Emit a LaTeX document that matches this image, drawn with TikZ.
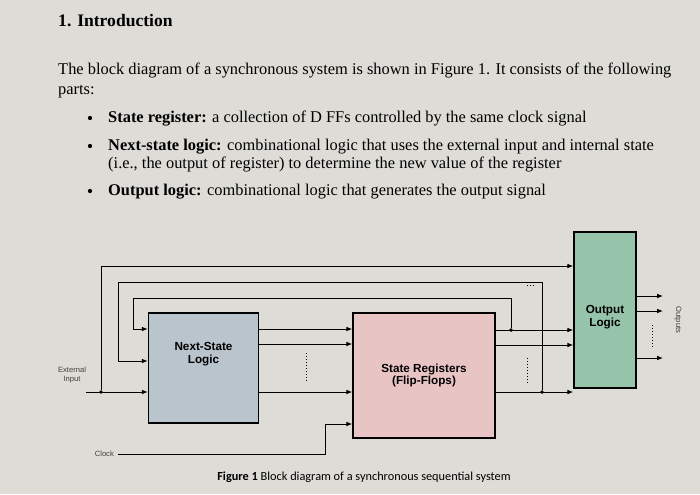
\documentclass[tikz,border=0pt]{standalone}
\usepackage{fontspec}
\setmainfont{Liberation Serif}
\newfontfamily\diagfont{Liberation Sans}
\newfontfamily\capfont{Carlito}
\usetikzlibrary{arrows.meta,positioning}
\definecolor{pagegray}{RGB}{222,220,214}
\definecolor{nsblue}{RGB}{186,196,204}
\definecolor{srpink}{RGB}{232,196,196}
\definecolor{olgreen}{RGB}{150,196,170}
\begin{document}
\begin{tikzpicture}[x=0.03cm,y=-0.03cm,every path/.style={>={Latex[length=5pt,width=4pt]}},
  block/.style={draw,line width=1.2pt,inner sep=0pt},
  wire/.style={line width=0.8pt},
  para/.style={anchor=base west,inner sep=0pt,font=\fontsize{14}{16}\selectfont},
  tiny/.style={font=\diagfont\fontsize{6.5}{7.5}\selectfont,text=black!75,align=center},
  dot/.style={circle,fill,inner sep=1.2pt}]
\fill[pagegray] (0,0) rectangle (700,494);
\useasboundingbox (0,0) rectangle (700,494);
% text above
\node[para,font=\bfseries\fontsize{15}{17}\selectfont] (title) at (58,26) {1. Introduction};
\node[para] (p1) at (58,74) {The block diagram of a synchronous system is shown in Figure 1. It consists of the following};
\node[para] (p2) at (58,94) {parts:};
\node[para] (b1) at (108,122) {\textbf{State register:} a collection of D FFs controlled by the same clock signal};
\node[para] (b2) at (108,150) {\textbf{Next-state logic:} combinational logic that uses the external input and internal state};
\node[para] (b3) at (108,168) {(i.e., the output of register) to determine the new value of the register};
\node[para] (b4) at (108,195) {\textbf{Output logic:} combinational logic that generates the output signal};
\foreach \y/\n in {118/d1,146/d2,191/d3}
  \node[circle,fill,inner sep=1.3pt] (\n) at (90,\y) {};
% blocks
\node[block,fill=nsblue,minimum width=3.3cm,minimum height=3.3cm] (ns) at (203.5,368) {};
\node[font=\diagfont\bfseries\fontsize{10}{11}\selectfont,align=center,below=22pt of ns.north] (nstext) {Next-State\\Logic};
\node[block,fill=srpink,minimum width=4.26cm,minimum height=3.75cm,font=\diagfont\bfseries\fontsize{10}{11}\selectfont,align=center] (sr) at (424,375.5) {State Registers\\(Flip-Flops)};
\node[block,fill=olgreen,minimum width=1.86cm,minimum height=4.68cm] (ol) at (605,310) {};
\node[font=\diagfont\bfseries\fontsize{10}{11}\selectfont,align=center,below=60pt of ol.north] (oltext) {Output\\Logic};
\node[tiny] (ext) at (72,375) {External\\Input};
\node[tiny,anchor=east] (clk) at (118,454) {Clock};
\node[tiny,rotate=-90] (outs) at (678,320) {Outputs};
% junctions
\coordinate (in) at (86,392);
\node[dot] (jin) at (101,392) {};
\node[dot] (j1) at (511,330) {};
\node[dot] (j2) at (542,392) {};
% wires
\draw[wire,->] (in) -- (ns.west |- in);
\draw[wire,->] (jin) |- (101,266) -- (ol.west |- 0,266);
\draw[wire,->] (j2) |- (118,282) |- (ns.west |- 0,361);
\draw[wire,->] (j1) |- (133,298) |- (ns.west |- 0,329);
\foreach \y in {329,344,392}
  \draw[wire,->] (ns.east |- 0,\y) -- (sr.west |- 0,\y);
\foreach \y in {330,345,392}
  \draw[wire,->] (sr.east |- 0,\y) -- (ol.west |- 0,\y);
\foreach \y in {296,311,358}
  \draw[wire,->] (ol.east |- 0,\y) -- (663,\y);
\draw[wire,->] (clk.east) -- (325,454) |- (sr.west |- 0,424);
% ellipsis marks
\foreach \x/\a/\b in {306/353/382,527/358/383,652/325/348}
  \draw[dotted,line width=0.6pt] (\x,\a) -- (\x,\b);
\draw[dotted,line width=0.6pt] (527,285) -- (536,285);
% caption
\node[font=\capfont\fontsize{10.5}{12}\selectfont] (cap) at (364,477) {\textbf{Figure 1} Block diagram of a synchronous sequential system};
\end{tikzpicture}
\end{document}
